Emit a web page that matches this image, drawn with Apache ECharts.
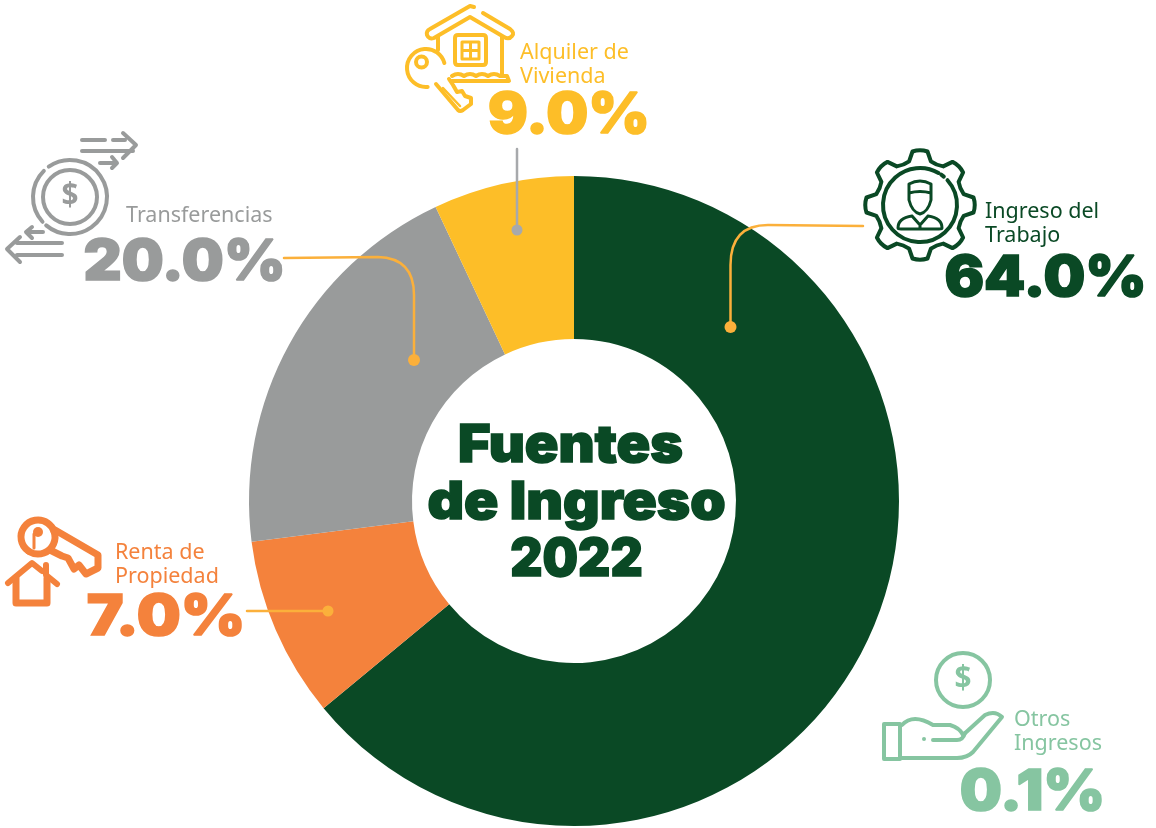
<!DOCTYPE html>
<html>
<head>
<meta charset="utf-8">
<title>Fuentes de Ingreso 2022</title>
<script src="https://cdn.jsdelivr.net/npm/echarts@6/dist/echarts.min.js"></script>
<style>
  html, body { margin: 0; padding: 0; background: #fff; }
  #chart { width: 1156px; height: 828px; }
</style>
</head>
<body>
<div id="chart"></div>
<script>
// slices as drawn in the picture (orange is the 9% wedge, yellow the 7% one,
// the printed labels have them the other way round)
const categories = ['Ingreso del Trabajo', 'Renta de Propiedad', 'Transferencias', 'Alquiler de Vivienda'];
const sliceValues = [64, 9, 20, 7];
const titleLines = ['Fuentes', 'de Ingreso', '2022'];
const percentLabels = ['64.0%', '7.0%', '20.0%', '9.0%', '0.1%'];
const labelLines = [['Ingreso del', 'Trabajo'], ['Renta de', 'Propiedad'], ['Transferencias'], ['Alquiler de', 'Vivienda'], ['Otros', 'Ingresos']];

const GREEN = '#0a4925', ORANGE = '#f4823c', GREY = '#999b9b', YELLOW = '#fdbe28', MINT = '#86c5a1', LINE = '#fbb03b';
const sliceColors = [GREEN, ORANGE, GREY, YELLOW];
const textColors = [GREEN, ORANGE, GREY, YELLOW, MINT];

const HEAVY = '"Inter", "Lato", sans-serif';
const LIGHT = '"Noto Sans", "Open Sans", sans-serif';

// where each block of text sits: [percent centre x, centre y, x scale], [label x, first baseline]
const percentPos = [[1045.5, 279, 1.05], [166, 618, 1.105], [184.5, 263, 1.055], [569, 116.5, 1.055], [1032.5, 793, 1.06]];
const labelPos = [[985, 223], [115, 564], [126, 227], [520, 64], [1014, 731]];
const titlePos = [[570.5, 446, 1.07], [576.5, 503, 1.09], [576.5, 560, 0.96]];

// callouts, icons and text all go in one custom series (graphic has no svg path type)
let overlay = [];

function stroke(d, color, width) {
  overlay.push({
    type: 'path',
    shape: { pathData: d },
    style: { fill: 'none', stroke: color, lineWidth: width || 4, lineCap: 'round', lineJoin: 'round' }
  });
}
function dot(x, y, r, color) {
  overlay.push({ type: 'circle', shape: { cx: x, cy: y, r: r }, style: { fill: color } });
}
function text(str, x, y, font, color, align, base, sx, heavy) {
  overlay.push({
    type: 'text', x: x, y: y, scaleX: sx || 1,
    style: {
      text: str, font: font, fill: color, textAlign: align, textVerticalAlign: base,
      stroke: heavy ? color : null, lineWidth: heavy || 0
    }
  });
}
function arc(cx, cy, r, a0, a1) {
  const p = a => [cx + r * Math.cos(a * Math.PI / 180), cy + r * Math.sin(a * Math.PI / 180)];
  const s = p(a0), e = p(a1);
  return 'M' + s[0] + ' ' + s[1] + ' A' + r + ' ' + r + ' 0 ' + (a1 - a0 > 180 ? 1 : 0) + ' 1 ' + e[0] + ' ' + e[1];
}

// callout lines
stroke('M730.5 327 V265 Q730.5 225 768 225 L863 226', LINE, 2.5);
dot(730.5, 327, 6, LINE);
stroke('M284 258 L378 257 Q414 258 414 295 V360', LINE, 2.5);
dot(414, 360, 6, LINE);
stroke('M247 611 H328', LINE, 2.5);
dot(328, 611, 5.5, LINE);
stroke('M517 149 V230', '#a7a9ac', 2.5);
dot(517, 230, 5.5, '#a7a9ac');

// house + key icon
stroke('M483 13 L510 29 Q515 33 512 36 Q509 40 504 37 L470 17 L434 38 Q429 40 427 35 Q426 31 430 29 L470 6 L474 7', YELLOW);
stroke('M438 37 V50 M502 37 V76', YELLOW);
stroke('M458 35 H483 Q486 35 486 38 V62 Q486 65 483 65 H458 Q455 65 455 62 V38 Q455 35 458 35 Z', YELLOW);
stroke('M462 42 H479 V59 H462 Z M470.5 42 V59 M462 50.5 H479', YELLOW, 3);
stroke('M452 76 Q458 72 464 76 Q470 72 476 76 Q482 72 488 76 Q494 72 500 76 H507 L509 81 H452', YELLOW);
stroke(arc(426, 68, 19, 85, 345), YELLOW);
stroke(arc(421.5, 62, 5.5, 0, 359), YELLOW);
stroke('M436 84 L458 110 Q460 112 463 110 L471 104 V98 L465 96 L462 91 L457 92 L453 85 L449 79', YELLOW);
stroke('M443 88 L460 106', YELLOW, 2.5);

// transfer icon
stroke(arc(70, 197, 37, -125, 130), GREY);
stroke(arc(70, 197, 37, 138, 225), GREY);
stroke(arc(70, 197, 27, 0, 359), GREY);
stroke('M82 140 H105 M113 140 H125 M82 151 H133 M123 133 L136 145 L123 158 M100 163 H117 M112 157 L117 163 L112 168', GREY);
stroke('M62 243 H17 M62 255 H17 M20 237 L7 249 L20 262 M43 232 H27 M32 227 L26 232 L32 238', GREY);
text('$', 70, 197, 'bold 33px ' + LIGHT, GREY, 'center', 'middle', 0.9);

// key + house icon
stroke(arc(38, 537, 17, -20, 120), ORANGE, 7);
stroke(arc(38, 537, 17, 125, 340), ORANGE, 7);
dot(38, 532, 5, ORANGE);
stroke('M34 534 V548', ORANGE, 3);
stroke('M55 530 L98 555 V568 L86 574 L79 565 L74 569 L68 558 L62 556 L50 550', ORANGE, 7);
stroke('M8 583 L32 563 L42 571 M46 565 V575 L57 584', ORANGE, 6);
stroke('M16 578 V603 H47 V578', ORANGE, 7);

// gear + worker icon
(function () {
  const cx = 920, cy = 205;
  let d = '';
  for (let i = 0; i < 8; i++) {
    const a = i * 45 - 90;
    const pt = (r, da) => {
      const t = (a + da) * Math.PI / 180;
      return (cx + r * Math.cos(t)).toFixed(1) + ' ' + (cy + r * Math.sin(t)).toFixed(1);
    };
    d += (i ? 'L' : 'M') + pt(45, -14) + ' L' + pt(54, -8) + ' Q' + pt(56, 0) + ' ' + pt(54, 8) + ' L' + pt(45, 14) + ' ';
    d += 'Q' + pt(43, 22.5) + ' ';
    d += pt(45, 31) + ' ';
  }
  stroke(d + 'Z', GREEN, 4);
})();
stroke(arc(920, 205, 37, -42, 300), GREEN, 4);
stroke(arc(920, 205, 37, -55, -50), GREEN, 4);
stroke('M909 193 V184 Q920 178 931 184 V193 M909 193 Q920 190 931 193 M909 193 V200 Q912 212 920 214 Q928 212 931 200 V193', GREEN, 3);
stroke('M912 216 Q898 218 898 228 Q898 229 901 229 H939 Q942 229 942 228 Q942 218 928 216 M912 216 L920 225 L928 216 M920 225 V229', GREEN, 3);

// coin + hand icon
stroke(arc(963, 680, 27, 0, 359), MINT, 4);
text('$', 963, 680, 'bold 33px ' + LIGHT, MINT, 'center', 'middle', 0.9);
stroke('M884 724 H900 V759 H884 Z', MINT, 4);
stroke('M902 725 Q913 713 933 725 H950 Q960 728 963 735 L985 715 Q995 710 1002 717 L973 752 Q967 758 957 758 H902', MINT, 4);
stroke('M933 740 H957 Q963 740 965 733', MINT, 4);
dot(924, 739, 2, MINT);

// all the text
percentLabels.forEach((p, i) => {
  text(p, percentPos[i][0], percentPos[i][1], '900 56px ' + HEAVY, textColors[i], 'center', 'middle', percentPos[i][2], 1.5);
  labelLines[i].forEach((l, j) => {
    text(l, labelPos[i][0], labelPos[i][1] + j * 24, '21.5px ' + LIGHT, textColors[i], 'left', 'bottom');
  });
});
titleLines.forEach((t, i) => {
  text(t, titlePos[i][0], titlePos[i][1], '900 52px ' + HEAVY, GREEN, 'center', 'middle', titlePos[i][2], 1.5);
});

let myChart = echarts.init(document.getElementById('chart'));
myChart.setOption({
  animation: false,
  backgroundColor: '#fff',
  series: [
    {
      name: 'Fuentes de Ingreso 2022',
      type: 'pie',
      center: [574, 501],
      radius: [162, 325],
      startAngle: 90,
      silent: true,
      label: { show: false },
      labelLine: { show: false },
      data: categories.map((c, i) => ({ name: c, value: sliceValues[i], itemStyle: { color: sliceColors[i] } }))
    },
    {
      type: 'custom',
      coordinateSystem: 'none',
      silent: true,
      z: 10,
      data: [0],
      renderItem: function () {
        return { type: 'group', children: overlay };
      }
    }
  ]
});
</script>
</body>
</html>
